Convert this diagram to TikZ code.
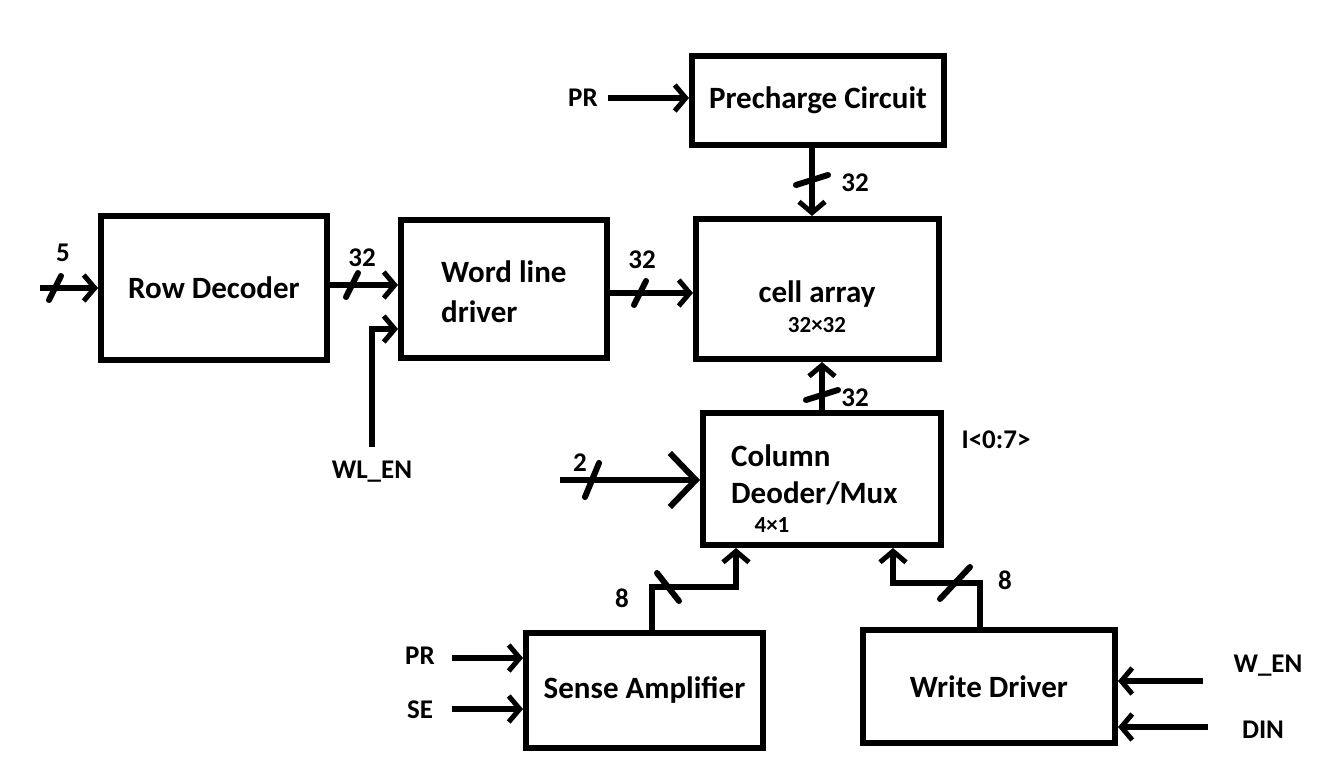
\documentclass[tikz,border=0pt]{standalone}
\usepackage{fontspec}
\setmainfont{Carlito}
\usetikzlibrary{arrows.meta,calc}
\begin{document}
\begin{tikzpicture}[x=1pt,y=-1pt,
  blk/.style={draw,line width=6pt,rectangle,inner sep=0pt,font=\bfseries\fontsize{31}{36}\selectfont},
  txt/.style={inner sep=0pt,font=\bfseries\fontsize{31}{40}\selectfont},
  txtb/.style={inner sep=0pt,font=\bfseries\fontsize{31}{37}\selectfont},
  lbl/.style={inner sep=0pt,font=\bfseries\fontsize{27}{30}\selectfont},
  sml/.style={inner sep=0pt,font=\bfseries\fontsize{23}{26}\selectfont},
  arr/.style={line width=6pt,-{Straight Barb[length=11pt,width=26pt,line width=5pt]}},
  bigarr/.style={line width=6pt,-{Straight Barb[length=26pt,width=54pt,line width=6pt]}},
  slash/.style={line width=6pt,line cap=round}]
\useasboundingbox (0,0) rectangle (1342,777);
% blocks
\node[blk,minimum width=226pt,minimum height=144pt] (rd) at (214,288) {Row Decoder};
\node[blk,minimum width=206pt,minimum height=138pt] (wld) at (504,289) {};
\node[txt,align=left,anchor=west] (wldt) at (441,292) {Word line\\driver};
\node[blk,minimum width=243pt,minimum height=140pt] (ca) at (817.5,289) {};
\node[txt] (cat) at (817,294) {cell array};
\node[sml] (cas) at (817,325) {32×32};
\node[blk,minimum width=252pt,minimum height=89pt] (pc) at (818,100.5) {Precharge Circuit};
\node[blk,minimum width=238pt,minimum height=132pt] (cd) at (822,479) {};
\node[txtb,align=left,anchor=west] (cdt) at (731,475) {Column\\Deoder/Mux};
\node[sml] (cds) at (772,525) {4×1};
\node[blk,minimum width=237pt,minimum height=115pt] (sa) at (644.5,690.5) {Sense Amplifier};
\node[blk,minimum width=252pt,minimum height=113pt] (wd) at (989,686.5) {Write Driver};
% coordinates
\coordinate (in5) at (40,288);
\coordinate (wlen) at (372,447);
\coordinate (in2) at (560,480);
\coordinate (prp) at (608,98);
\coordinate (prs) at (452,658);
\coordinate (ses) at (452,709);
\coordinate (wen) at (1203,681);
\coordinate (din) at (1208,727);
% labels
\node[lbl] (l5) at (63,253) {5};
\node[lbl] (l32a) at (362,258) {32};
\node[lbl] (lwlen) at (372,472) {WL\_EN};
\node[lbl] (l32b) at (642,260) {32};
\node[lbl] (l32c) at (855,183) {32};
\node[lbl] (lpr) at (583,98) {PR};
\node[lbl] (l32d) at (855,398) {32};
\node[lbl] (li) at (996,440) {I<0:7>};
\node[lbl] (l2) at (580,463) {2};
\node[lbl] (l8a) at (622,598) {8};
\node[lbl] (l8b) at (1005,580) {8};
\node[lbl] (lpr2) at (420,656) {PR};
\node[lbl] (lse) at (420,710) {SE};
\node[lbl] (lwen) at (1268,666) {W\_EN};
\node[lbl] (ldin) at (1263,730) {DIN};
% connectors
\draw[arr] (in5) -- (rd.west);
\draw[slash] (55,288) +(-6,12) -- +(6,-12);
\draw[arr] (rd.east |- 0,285) -- (wld.west |- 0,285);
\draw[slash] (352,285) +(-6,12) -- +(6,-12);
\draw[arr] (wlen) -- (372,329) -- (wld.west |- 0,329);
\draw[arr] (wld.east |- 0,293) -- (ca.west |- 0,293);
\draw[slash] (640,293) +(-6,12) -- +(6,-12);
\draw[arr] (pc.south -| 812,0) -- (ca.north -| 812,0);
\draw[slash] (812,180) +(-16,5) -- +(16,-5);
\draw[arr] (prp) -- (pc.west |- prp);
\draw[arr] (cd.north -| 822,0) -- (ca.south -| 822,0);
\draw[slash] (822,395) +(-16,5) -- +(16,-5);
\draw[bigarr] (in2) -- (cd.west |- in2);
\draw[slash] (592,480) +(-7,17) -- +(7,-17);
\draw[arr] (sa.north -| 652,0) -- (652,587) -- (736,587) -- (cd.south -| 736,0);
\draw[slash] (668,587) +(-11,-14) -- +(11,14);
\draw[arr] (wd.north -| 980,0) -- (980,583) -- (893,583) -- (cd.south -| 893,0);
\draw[slash] (955,583) +(-15,16) -- +(15,-16);
\draw[arr] (prs) -- (sa.west |- prs);
\draw[arr] (ses) -- (sa.west |- ses);
\draw[arr] (wen) -- (wd.east |- wen);
\draw[arr] (din) -- (wd.east |- din);
\end{tikzpicture}
\end{document}
